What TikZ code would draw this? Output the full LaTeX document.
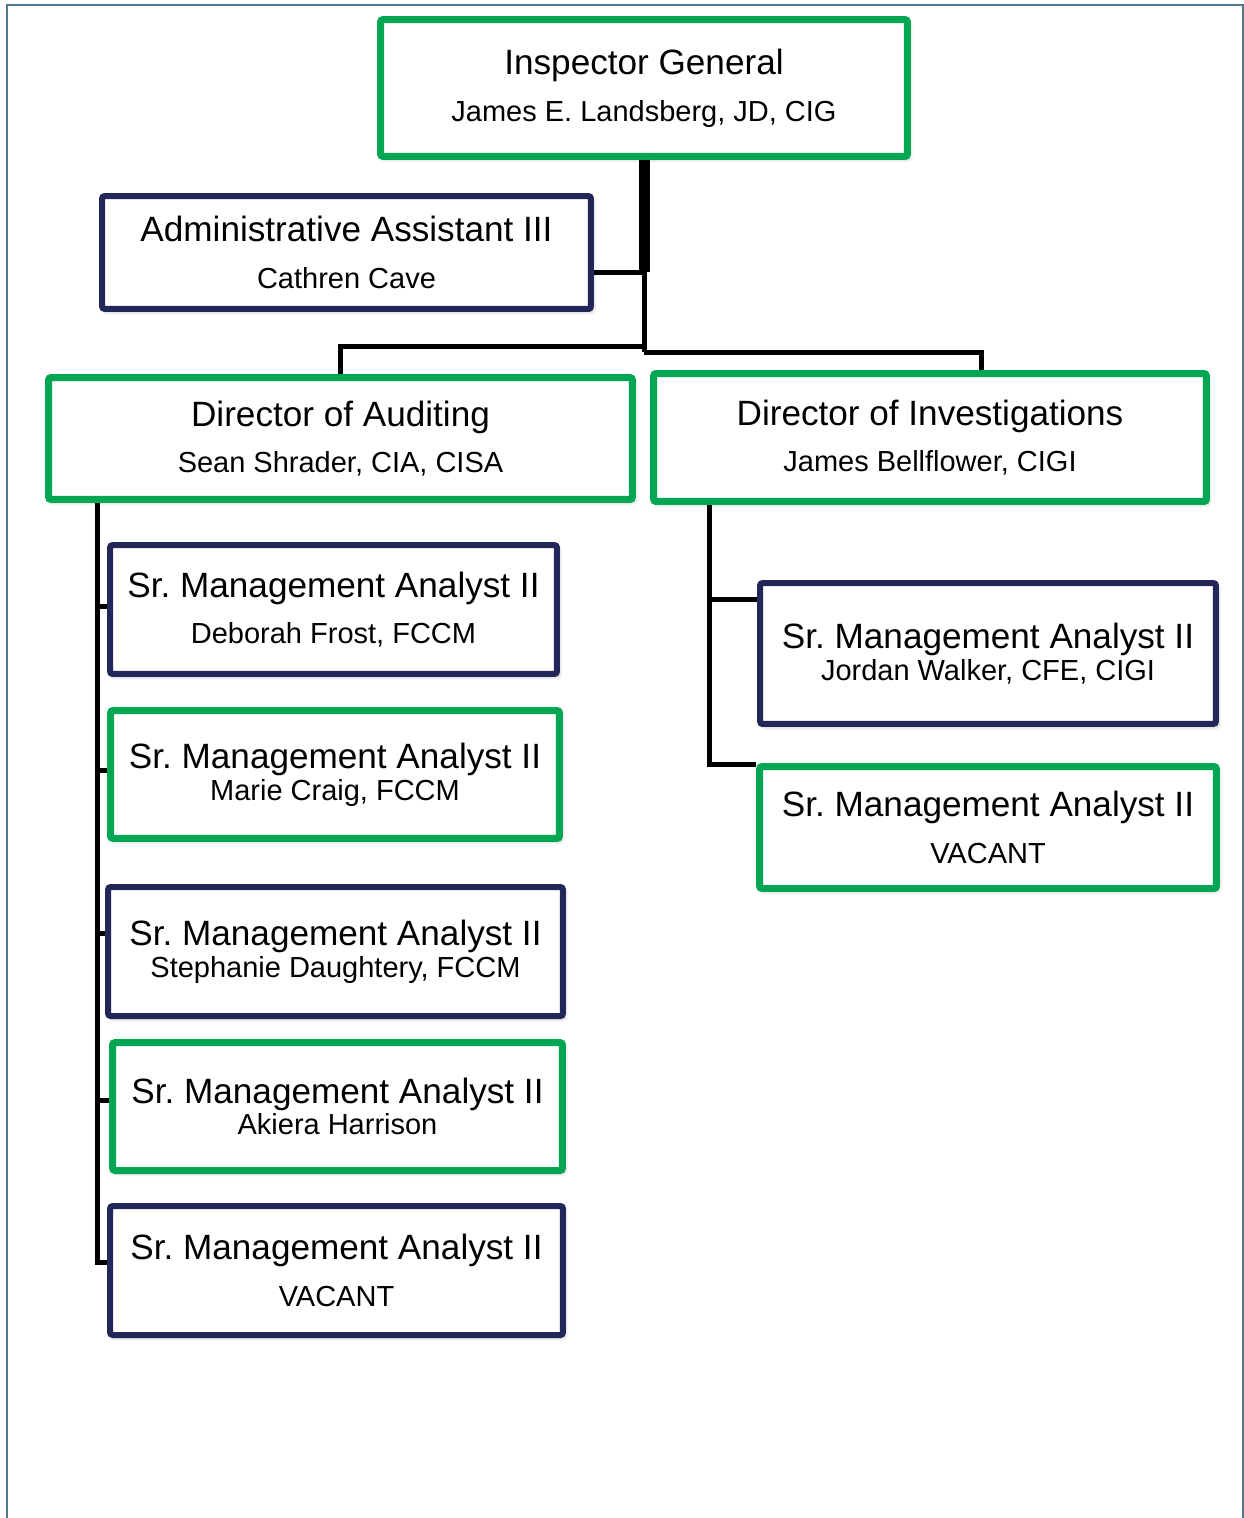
\documentclass[tikz,border=0pt]{standalone}
\usepackage{fontspec}
\setmainfont{Liberation Sans}
\usetikzlibrary{shadows.blur}
\frenchspacing

\definecolor{oigGreen}{RGB}{0,166,81}
\definecolor{oigNavy}{RGB}{35,38,88}
\definecolor{frameBlue}{RGB}{80,122,142}

\newcommand{\staffname}[1]{{\fontsize{16.5}{18}\selectfont #1}}

\begin{document}
\begin{tikzpicture}[x=0.02cm,y=-0.02cm,
    box/.style={rectangle,draw,fill=white,rounded corners=1.5pt,align=center,inner sep=0pt,
        blur shadow={shadow xshift=1.2pt,shadow yshift=-1.5pt,shadow blur steps=6,shadow opacity=30}},
    green box/.style={box,draw=oigGreen,line width=0.14cm},
    navy box/.style={box,draw=oigNavy,line width=0.12cm},
    wide/.style={font=\fontsize{20}{26.5}\selectfont},
    tight/.style={font=\fontsize{20}{18}\selectfont},
    link/.style={draw=black,line width=0.1cm},
    heavy link/.style={draw=black,line width=0.22cm}]

    \useasboundingbox (0,0) rectangle (1244,1518);
    \draw[frameBlue,line width=0.04cm] (7,1518) -- (7,5) -- (1243,5) -- (1243,1518);

    % top of the office
    \node[green box,wide,minimum width=10.54cm,minimum height=2.74cm] (ig) at (644,88)
        {Inspector General\\\staffname{James E. Landsberg, JD, CIG}};
    \node[navy box,wide,minimum width=9.78cm,minimum height=2.26cm] (admin) at (346.5,252.5)
        {Administrative Assistant III\\\staffname{Cathren Cave}};

    % directors
    \node[green box,wide,minimum width=11.68cm,minimum height=2.44cm] (dira) at (340.5,438.5)
        {Director of Auditing\\\staffname{Sean Shrader, CIA, CISA}};
    \node[green box,wide,minimum width=11.06cm,minimum height=2.56cm] (diri) at (930,437.5)
        {Director of Investigations\\\staffname{James Bellflower, CIGI}};

    % auditing staff
    \node[navy box,wide,minimum width=8.94cm,minimum height=2.58cm] (deb) at (333.5,609.5)
        {Sr. Management Analyst II\\\staffname{Deborah Frost, FCCM}};
    \node[green box,tight,minimum width=8.98cm,minimum height=2.56cm] (marie) at (335,774.5)
        {Sr. Management Analyst II\\\staffname{Marie Craig, FCCM}};
    \node[navy box,tight,minimum width=9.10cm,minimum height=2.58cm] (steph) at (335.5,951.5)
        {Sr. Management Analyst II\\\staffname{Stephanie Daughtery, FCCM}};
    \node[green box,tight,minimum width=9.00cm,minimum height=2.56cm] (akiera) at (337.5,1106.5)
        {Sr. Management Analyst II\\\staffname{Akiera Harrison}};
    \node[navy box,wide,minimum width=9.06cm,minimum height=2.58cm] (vacl) at (336.5,1270.5)
        {Sr. Management Analyst II\\\staffname{VACANT}};

    % investigations staff
    \node[navy box,tight,minimum width=9.12cm,minimum height=2.82cm] (jordan) at (988,653.5)
        {Sr. Management Analyst II\\\staffname{Jordan Walker, CFE, CIGI}};
    \node[green box,wide,minimum width=9.14cm,minimum height=2.44cm] (vacr) at (988,827.5)
        {Sr. Management Analyst II\\\staffname{VACANT}};

    % connectors
    \coordinate (hub) at (644,272);
    \coordinate (split) at (644,346);
    \coordinate (splitr) at (644,352);
    \coordinate (drop) at (981,352);
    \coordinate (lbus) at (97,1262);
    \coordinate (rtap) at (709,599);
    \coordinate (rbus) at (709,764);

    \draw[heavy link] (ig.south) -- (hub);
    \draw[link] (admin.east |- hub) -- (hub) -- (splitr);
    \draw[link] (split) -- (split -| dira.north) -- (dira.north);
    \draw[link] (splitr) -- (drop) -- (drop |- diri.north);

    \draw[link] (dira.south -| lbus) -- (lbus) -- (lbus -| vacl.west);
    \foreach \b/\y in {deb/606,marie/770,steph/933,akiera/1100}
        \draw[link] (97,\y) -- (\b.west |- 0,\y);

    \draw[link] (diri.south -| rbus) -- (rbus) -- (rbus -| vacr.west);
    \draw[link] (rtap) -- (rtap -| jordan.west);
\end{tikzpicture}
\end{document}
